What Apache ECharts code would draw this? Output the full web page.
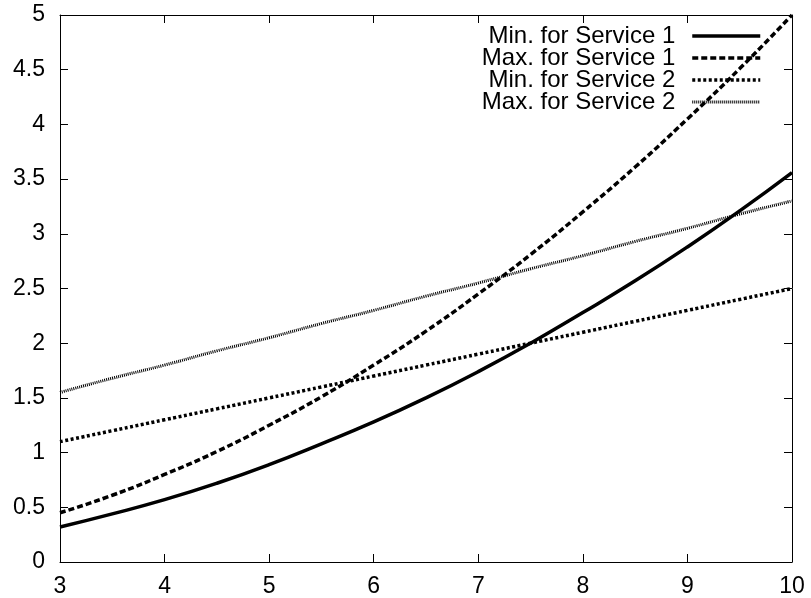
<!DOCTYPE html>
<html><head><meta charset="utf-8">
<script src="https://cdn.jsdelivr.net/npm/echarts@6/dist/echarts.min.js"></script>
<style>html,body{margin:0;padding:0;background:#fff}#c{width:811px;height:598px}</style>
</head><body><div id="c"></div>
<script>
const xs = [3,3.5,4,4.5,5,5.5,6,6.5,7,7.5,8,8.5,9,9.5,10];
const minS1 = [0.32,0.44,0.57,0.72,0.89,1.08,1.28,1.50,1.74,2.00,2.28,2.57,2.88,3.21,3.56];
const maxS1 = [0.45,0.61,0.80,1.01,1.25,1.51,1.80,2.11,2.45,2.81,3.20,3.61,4.05,4.51,5.00];
const minS2 = [1.10,1.20,1.30,1.40,1.50,1.60,1.70,1.80,1.90,2.00,2.10,2.20,2.30,2.40,2.50];
const maxS2 = [1.55,1.68,1.80,1.93,2.05,2.18,2.30,2.43,2.55,2.68,2.80,2.93,3.05,3.18,3.30];
const names = ['Min. for Service 1','Max. for Service 1','Min. for Service 2','Max. for Service 2'];
const font = 'Liberation Sans, Arial, Helvetica, sans-serif';

const pair = arr => xs.map((x,i)=>[x,arr[i]]);
const styles = [
  {type:'solid', width:3.5},
  {type:[6,3], width:3.5},
  {type:[3,2.5], width:3.5},
  {type:[1,1], width:3}
];
const datas = [minS1,maxS1,minS2,maxS2];

const chart = echarts.init(document.getElementById('c'));
const axisCommon = {
  axisLine:{show:true,onZero:false,lineStyle:{color:'#000',width:1}},
  axisTick:{show:true,inside:true,length:8,lineStyle:{color:'#000',width:1}},
  splitLine:{show:false}
};
chart.setOption({
  animation:false,
  backgroundColor:'#fff',
  grid:{left:60,right:19,top:15,bottom:35,containLabel:false},
  legend:{
    orient:'vertical', right:49, top:24, align:'right', padding:0,
    itemWidth:68, itemHeight:14, itemGap:-2,
    itemStyle:{color:'rgba(0,0,0,0)',borderColor:'rgba(0,0,0,0)',borderWidth:0,opacity:0},
    textStyle:{fontFamily:font,fontSize:24,lineHeight:22,color:'#000',padding:[0,12,0,0]},
    data:names.map((n,i)=>({name:n, lineStyle:Object.assign({color:'#000'},styles[i])}))
  },
  xAxis:[
    Object.assign({type:'value',min:3,max:10,interval:1,position:'bottom',
      axisLabel:{fontFamily:font,fontSize:23,color:'#000',margin:13}},axisCommon),
    Object.assign({type:'value',min:3,max:10,interval:1,position:'top',
      axisLabel:{show:false}},axisCommon)
  ],
  yAxis:[
    Object.assign({type:'value',min:0,max:5,interval:0.5,position:'left',
      axisLabel:{fontFamily:font,fontSize:23,color:'#000',margin:15}},axisCommon),
    Object.assign({type:'value',min:0,max:5,interval:0.5,position:'right',
      axisLabel:{show:false}},axisCommon)
  ],
  series:datas.map((d,i)=>({
    name:names[i], type:'line', data:pair(d), smooth:true, showSymbol:false,
    symbol:'circle', symbolSize:0,
    xAxisIndex:0, yAxisIndex:0,
    lineStyle:Object.assign({color:'#000'},styles[i]),
    itemStyle:{color:'#000'}
  }))
});
</script></body></html>
